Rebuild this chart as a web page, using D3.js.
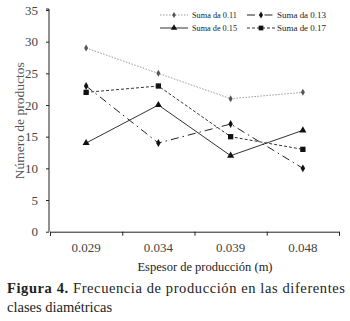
<!DOCTYPE html>
<html>
<head>
<meta charset="utf-8">
<script src="https://cdn.jsdelivr.net/npm/d3@7"></script>
<style>
  body { margin: 0; background: #fff; }
  svg { display: block; font-family: "Liberation Serif", serif; }
</style>
</head>
<body>
<main></main>
<script>
// Datos
const categorias = ["0.029", "0.034", "0.039", "0.048"];
const nombresSeries = ["Suma da 0.11", "Suma da 0.13", "Suma de 0.15", "Suma de 0.17"];
const suma011 = [29, 25, 21, 22];
const suma013 = [23, 14, 17, 10];
const suma015 = [14, 20, 12, 16];
const suma017 = [22, 23, 15, 13];
const ticksY = [0, 5, 10, 15, 20, 25, 30, 35];

const [w, h] = [350, 321];
const margen = { izq: 50, der: 339, arriba: 10, abajo: 231.7 };

const svg = d3.select('main')
    .append('svg')
    .attr('width', w)
    .attr('height', h);

// Escalas
const xScale = d3.scaleBand()
    .domain(categorias)
    .range([margen.izq, margen.der])
    .padding(0);

const xBordes = d3.scaleLinear()
    .domain([0, categorias.length])
    .range([margen.izq, margen.der]);

const yScale = d3.scaleLinear()
    .domain([0, 35])
    .range([margen.abajo, margen.arriba]);

// Eje Y
const ejeY = svg.append('g')
    .attr('transform', 'translate(' + (margen.izq - 1) + ',0)')
    .call(d3.axisLeft(yScale).tickValues(ticksY).tickSize(3).tickPadding(8));
ejeY.select('.domain').attr('stroke', '#222').attr('d', 'M0,' + margen.abajo + 'V' + (margen.arriba - 1) + 'h-3');
ejeY.selectAll('.tick line').attr('stroke', '#222');
ejeY.selectAll('text')
    .attr('font-family', 'Liberation Serif')
    .attr('font-size', 13)
    .attr('fill', '#444');

// Eje X: marcas en los bordes
const ejeXBordes = svg.append('g')
    .attr('transform', 'translate(0,' + margen.abajo + ')')
    .call(d3.axisBottom(xBordes).ticks(4).tickFormat('').tickSize(4).tickSizeOuter(4));
ejeXBordes.select('.domain').attr('stroke', '#222');
ejeXBordes.selectAll('.tick line').attr('stroke', '#222');

// Eje X: etiquetas
const ejeX = svg.append('g')
    .attr('transform', 'translate(0,' + margen.abajo + ')')
    .call(d3.axisBottom(xScale).tickSize(0).tickPadding(11));
ejeX.select('.domain').remove();
ejeX.selectAll('text')
    .attr('font-family', 'Liberation Serif')
    .attr('font-size', 13)
    .attr('fill', '#444');

// Titulos de ejes
svg.append('text')
    .attr('transform', 'translate(24,' + yScale(17.5) + ') rotate(-90)')
    .attr('text-anchor', 'middle')
    .attr('font-size', 13.5)
    .attr('fill', '#555')
    .text('Número de productos');

svg.append('text')
    .attr('x', 205)
    .attr('y', 271)
    .attr('text-anchor', 'middle')
    .attr('font-size', 12.5)
    .attr('fill', '#222')
    .text('Espesor de producción (m)');

// Series
const series = [
    { nombre: nombresSeries[0], valores: suma011, color: '#9a9a9a', dash: '1.5,1.5', marca: 'diamante', tam: 14 },
    { nombre: nombresSeries[1], valores: suma013, color: '#222', dash: '8,4,1.5,4', marca: 'estrella', tam: 18 },
    { nombre: nombresSeries[2], valores: suma015, color: '#333', dash: null, marca: 'triangulo', tam: 22 },
    { nombre: nombresSeries[3], valores: suma017, color: '#333', dash: '3,2', marca: 'cuadrado', tam: 28 }
];

const tiposMarca = {
    diamante: d3.symbolDiamond,
    estrella: d3.symbolDiamond,
    triangulo: d3.symbolTriangle,
    cuadrado: d3.symbolSquare
};

const linea = d3.line()
    .x((d, i) => xScale(categorias[i]) + xScale.bandwidth() / 2)
    .y((d) => yScale(d));

series.forEach((s) => {
    svg.append('path')
        .datum(s.valores)
        .attr('d', linea)
        .attr('fill', 'none')
        .attr('stroke', s.color)
        .attr('stroke-width', 1)
        .attr('stroke-dasharray', s.dash);

    svg.selectAll(null)
        .data(s.valores)
        .enter()
        .append('path')
        .attr('transform', (d, i) => 'translate(' + (xScale(categorias[i]) + xScale.bandwidth() / 2) + ',' + yScale(d) + ')')
        .attr('d', d3.symbol().type(tiposMarca[s.marca]).size(s.tam))
        .attr('fill', s.marca === 'diamante' ? '#555' : '#111');
});

// Leyenda
const posLeyenda = [
    { x: 160, y: 15 }, { x: 247, y: 15 },
    { x: 160, y: 28 }, { x: 247, y: 28 }
];

series.forEach((s, i) => {
    const p = posLeyenda[i];
    const g = svg.append('g').attr('transform', 'translate(' + p.x + ',' + p.y + ')');
    g.append('line')
        .attr('x1', 0).attr('x2', 28)
        .attr('y1', 0).attr('y2', 0)
        .attr('stroke', s.color)
        .attr('stroke-width', 1)
        .attr('stroke-dasharray', s.dash);
    g.append('path')
        .attr('transform', 'translate(14,0)')
        .attr('d', d3.symbol().type(tiposMarca[s.marca]).size(s.tam * 0.8))
        .attr('fill', s.marca === 'diamante' ? '#555' : '#111');
    g.append('text')
        .attr('x', i % 2 === 0 ? 32 : 30)
        .attr('y', 3)
        .attr('font-size', 9)
        .attr('fill', '#222')
        .attr('textLength', i % 2 === 0 ? 45 : 49)
        .attr('lengthAdjust', 'spacingAndGlyphs')
        .text(s.nombre);
});

// Pie de figura
const pie = svg.append('text')
    .attr('x', 7)
    .attr('y', 293)
    .attr('font-size', 14.5)
    .attr('fill', '#222')
    .attr('textLength', 338)
    .attr('lengthAdjust', 'spacing');
pie.append('tspan').attr('font-weight', 'bold').text('Figura 4.');
pie.append('tspan').text(' Frecuencia de producción en las diferentes');

svg.append('text')
    .attr('x', 7)
    .attr('y', 312)
    .attr('font-size', 14.5)
    .attr('fill', '#222')
    .text('clases diamétricas');
</script>
</body>
</html>
